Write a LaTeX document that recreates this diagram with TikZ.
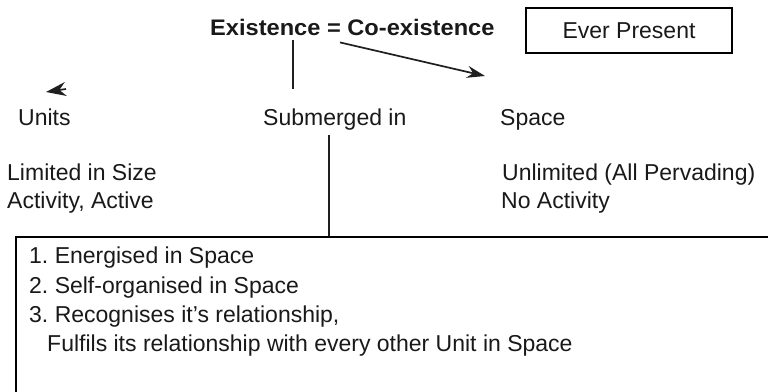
\documentclass[tikz,border=0pt]{standalone}
\usepackage{fontspec}
\setmainfont{Liberation Sans}
\newfontfamily\widesans{Liberation Sans}[FakeStretch=1.05]
\usetikzlibrary{arrows.meta}
\frenchspacing

\tikzset{
  lbl/.style={anchor=base west, inner sep=0pt, text=black!90, font=\fontsize{23}{27}\selectfont},
  title/.style={lbl, font=\widesans\fontsize{22.5}{27}\selectfont\bfseries},
  link/.style={line width=1.7pt, color=black!88}
}

\begin{document}
\begin{tikzpicture}[x=1pt, y=-1pt]
      \clip (0,0) rectangle (768,391);

      \node[title] (exist) at (210,35) {Existence = Co-existence};
      \node[draw, line width=1.4pt, minimum width=206pt, minimum height=45pt, text=black!90,
            font=\fontsize{23}{27}\selectfont] (ever) at (629,30.5) {Ever Present};

      \node[lbl] (units) at (18,125) {Units};
      \node[lbl] (subm) at (263,125) {Submerged in};
      \node[lbl] (space) at (500,125) {Space};

      \node[lbl] (lim) at (7,180) {Limited in Size};
      \node[lbl] (act) at (7,208) {Activity, Active};
      \node[lbl] (unlim) at (502,180) {Unlimited (All Pervading)};
      \node[lbl] (noact) at (501,208) {No Activity};

      \node[draw, line width=2pt, anchor=north west, inner sep=0pt,
            minimum width=790pt, minimum height=200pt] (listbox) at (15,236) {};

      \node[lbl] (item1) at (29,263) {1. Energised in Space};
      \node[lbl] (item2) at (29,293) {2. Self-organised in Space};
      \node[lbl] (item3) at (29,322) {3. Recognises it’s relationship,};
      \node[lbl] (item4) at (47,351) {Fulfils its relationship with every other Unit in Space};

      \coordinate (utip) at (46,92);
      \coordinate (stip) at (485,76);

      \draw[link] ([xshift=83pt,yshift=-5pt]exist.south west) -- ++(0,49);
      \draw[link, -{Stealth[length=18pt,width=12pt]}]
            ([xshift=130pt,yshift=-7pt]exist.south west) -- (stip);
      \draw[link, -{Stealth[length=20pt,width=14pt]}] (66,89) -- (utip);
      \draw[link] ([xshift=-6pt,yshift=-5pt]subm.south) -- ([xshift=-6pt]subm.south |- listbox.north);
    \end{tikzpicture}
\end{document}
